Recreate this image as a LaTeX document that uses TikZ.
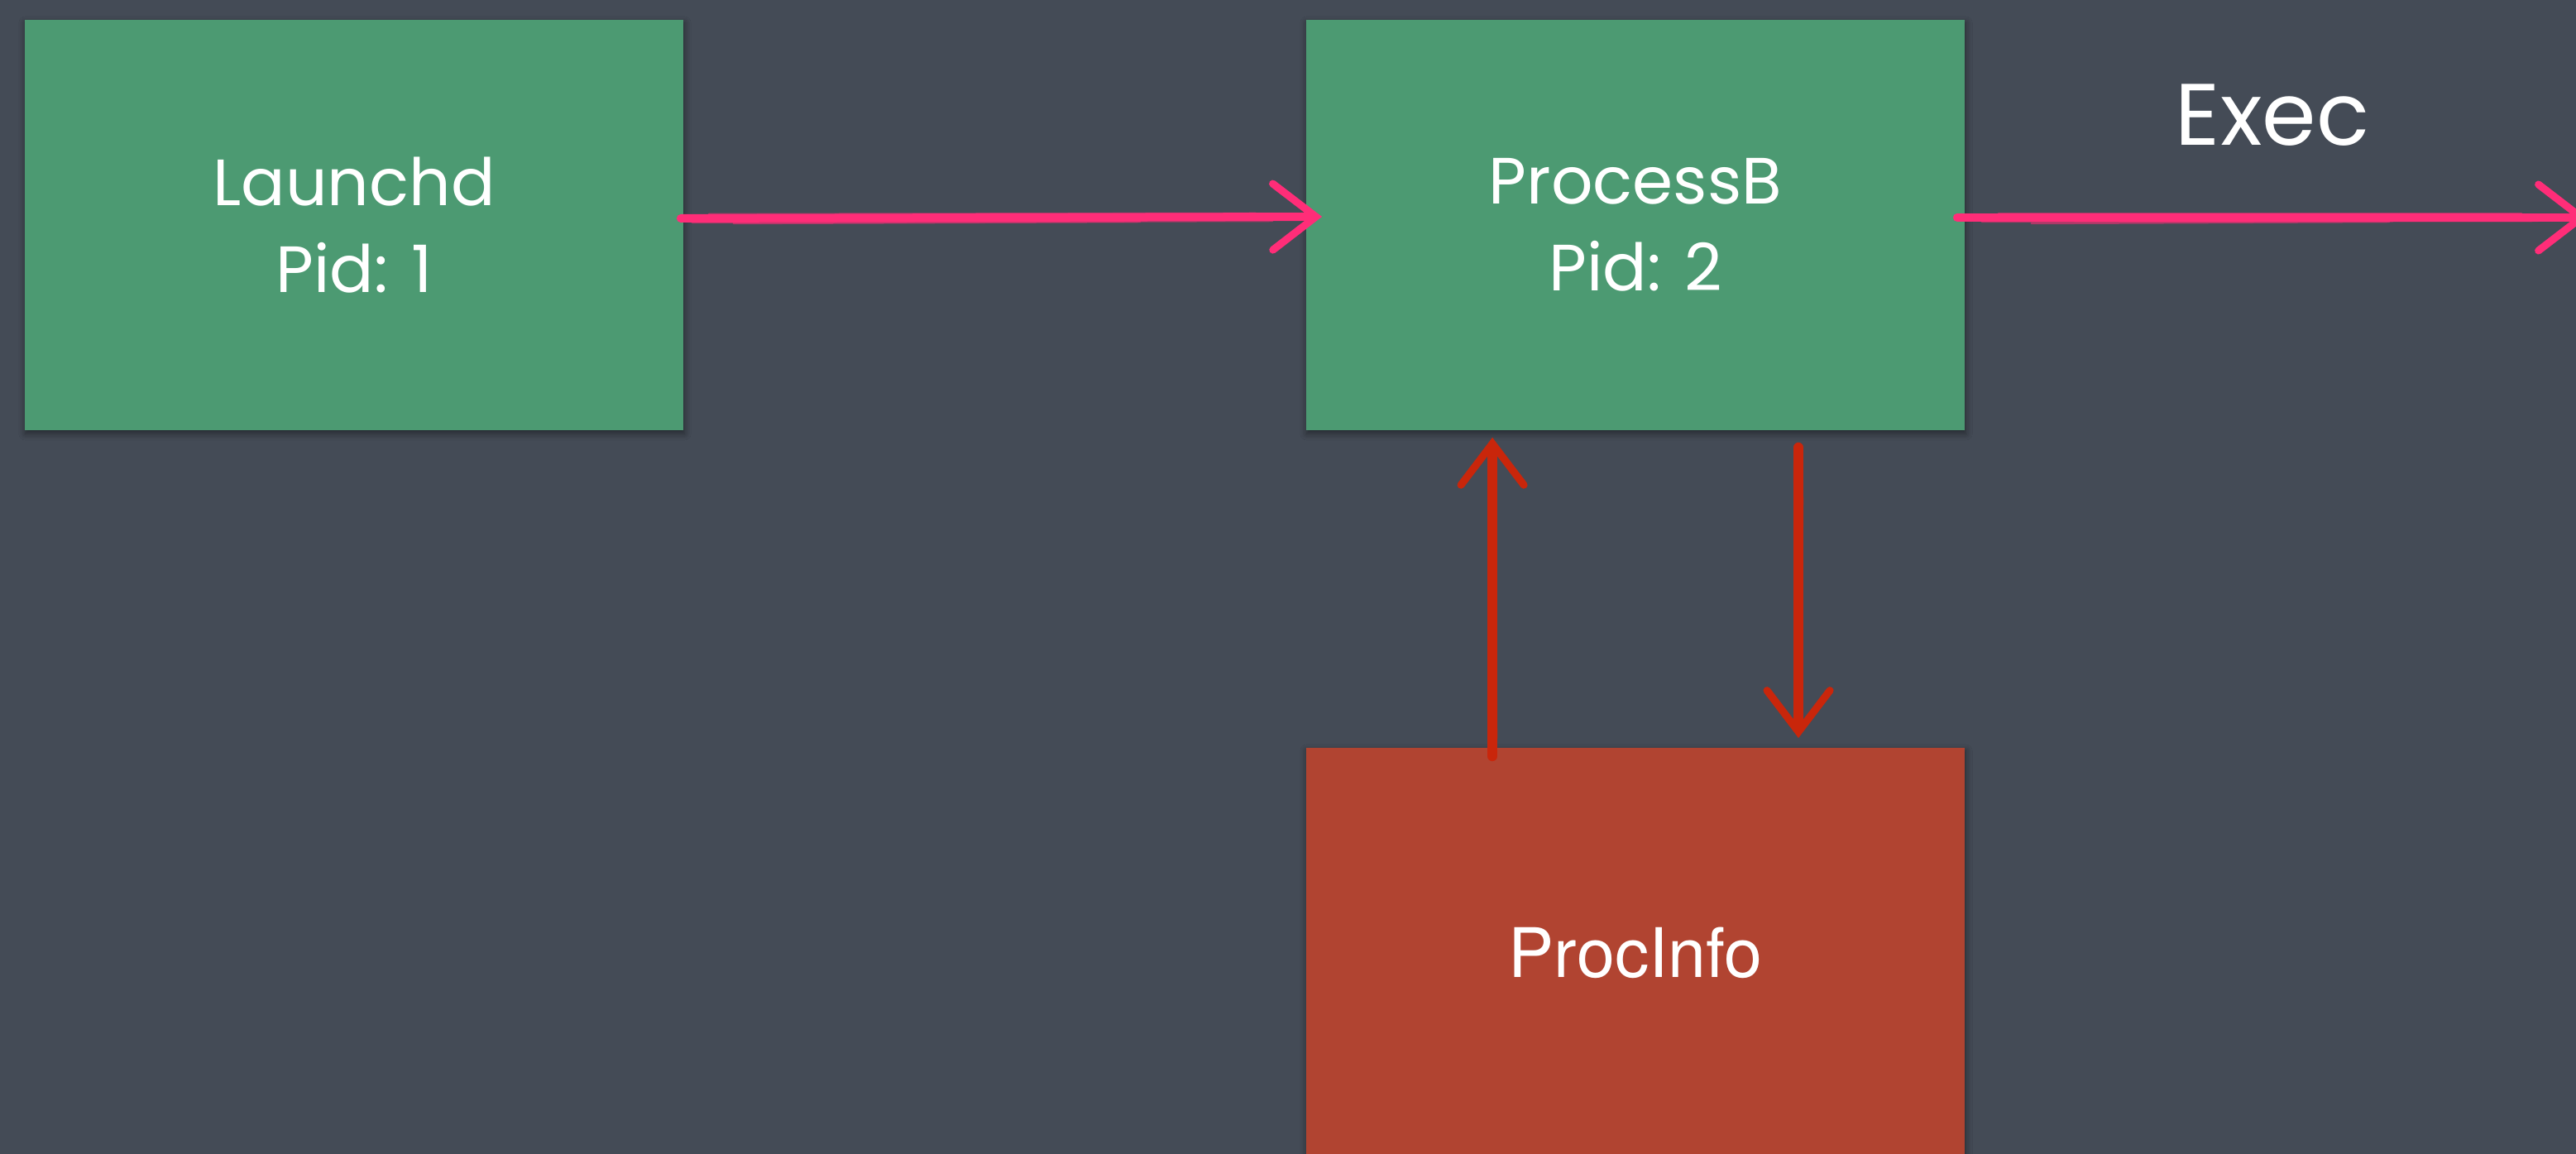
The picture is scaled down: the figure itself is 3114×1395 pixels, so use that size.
\documentclass[tikz,border=0pt]{standalone}
\usepackage{fontspec}
\setmainfont{Poppins}
\newfontfamily\helv{TeX Gyre Heros}
\usetikzlibrary{arrows.meta,calc,shadows.blur}

\definecolor{slate}{HTML}{444B56}
\definecolor{cardgreen}{HTML}{4C9A72}
\definecolor{cardred}{HTML}{B14431}
\definecolor{brushpink}{HTML}{FF2D78}
\definecolor{brushred}{HTML}{C9260B}

\tikzset{
  card/.style={draw=none, inner sep=0pt, minimum width=7.96cm, minimum height=4.96cm,
    text=white, align=center, font=\fontsize{22.5}{30}\selectfont,
    blur shadow={shadow xshift=0.01cm, shadow yshift=-0.04cm, shadow blur steps=6,
      shadow blur radius=0.08cm, shadow opacity=45}},
  greencard/.style={card, fill=cardgreen},
  redcard/.style={card, fill=cardred, minimum height=6.2cm},
  pinkbrush/.style={draw=brushpink, line width=0.1cm, line cap=round,
    -{Straight Barb[length=5.2mm, width=8mm, line width=0.09cm, line cap=round]}},
  redbrush/.style={draw=brushred, line width=0.12cm, line cap=round,
    -{Straight Barb[length=5mm, width=7.6mm, line width=0.09cm, line cap=round]}},
  bristle/.style={line width=0.025cm, opacity=0.55, line cap=round},
}

\begin{document}
\begin{tikzpicture}[x=0.01cm, y=-0.01cm]
  \clip (0,0) rectangle (3114,1395);
  \fill[slate] (0,0) rectangle (3114,1395);

  % process cards
  \node[greencard] (launchd) at (428,272) {Launchd\\Pid: 1};
  \node[greencard] (procB) at (1977,272) {ProcessB\\Pid: 2};
  \node[redcard] (info) at (1977,1214) {};
  \node[text=white, font=\helv\fontsize{23.5}{28}\selectfont] (infolabel) at (1977,1152) {ProcInfo};

  % exec label
  \node[text=white, font=\fontsize{30}{36}\selectfont] (exec) at (2747,139) {Exec};
  \coordinate (offscreen) at (3128,263);

  % pink brush arrows
  \draw[pinkbrush, shorten <=-0.04cm, shorten >=-0.2cm]
    ($(launchd.east)+(0,-8)$) -- ($(procB.west)+(0,-10)$);
  \draw[brushpink, bristle] ($(launchd.east)+(10,-3)$) -- ($(procB.west)+(-40,-5)$);
  \draw[brushpink, bristle] ($(launchd.east)+(30,-13)$) -- ($(procB.west)+(-60,-14)$);
  \draw[brushpink, bristle] ($(launchd.east)+(60,-2)$) -- ($(procB.west)+(-200,-4)$);
  \draw[pinkbrush, shorten <=-0.1cm] ($(procB.east)+(0,-9)$) -- (offscreen);
  \draw[brushpink, bristle] ($(procB.east)+(20,-4)$) -- ($(offscreen)+(-60,4)$);
  \draw[brushpink, bristle] ($(procB.east)+(40,-14)$) -- ($(offscreen)+(-80,-5)$);
  \draw[brushpink, bristle] ($(procB.east)+(80,-2)$) -- ($(offscreen)+(-240,5)$);

  % red brush arrows between ProcessB and ProcInfo
  \draw[redbrush, shorten <=-0.11cm, shorten >=0.08cm]
    ($(info.north west)+(226,0)$) -- ($(procB.south west)+(226,0)$);
  \draw[brushred, bristle] ($(info.north west)+(231,-10)$) -- ($(procB.south west)+(229,70)$);
  \draw[brushred, bristle] ($(info.north west)+(221,-40)$) -- ($(procB.south west)+(223,110)$);
  \draw[redbrush, shorten <=0.2cm, shorten >=0.11cm]
    ($(procB.south west)+(596,0)$) -- ($(info.north west)+(596,0)$);
  \draw[brushred, bristle] ($(procB.south west)+(591,40)$) -- ($(info.north west)+(593,-60)$);
  \draw[brushred, bristle] ($(procB.south west)+(601,80)$) -- ($(info.north west)+(599,-90)$);
\end{tikzpicture}
\end{document}
